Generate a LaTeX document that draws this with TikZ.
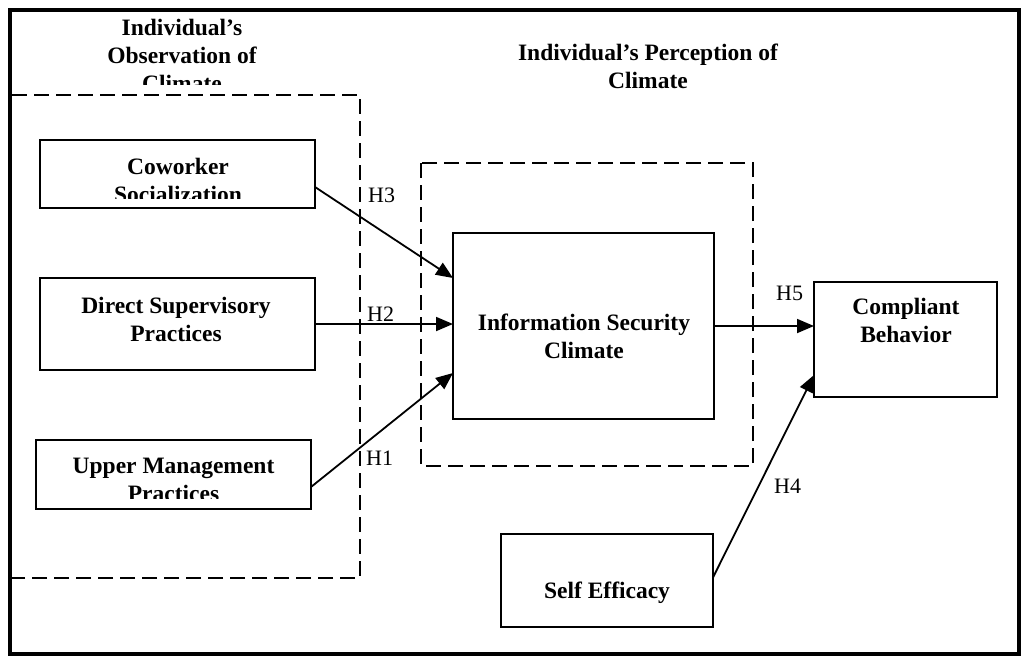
\documentclass[tikz,border=0pt]{standalone}
\usepackage{fontspec}
\setmainfont{Liberation Serif}
\usetikzlibrary{arrows.meta,calc}
\begin{document}
\begin{tikzpicture}[x=1pt,y=-1pt,
  box/.style={draw, line width=2pt, inner sep=0pt, outer sep=0pt},
  lbl/.style={font=\fontsize{23.5}{28}\selectfont\bfseries, anchor=base, inner sep=0pt},
  hyp/.style={font=\fontsize{22}{26}\selectfont, anchor=west, inner sep=0pt},
  link/.style={line width=1.8pt, -{Triangle[length=17pt,width=14pt]}},
  grp/.style={line width=2pt, dash pattern=on 15pt off 7pt},
  frame/.style={line width=4.5pt}]
\useasboundingbox (0,0) rectangle (1026,659);
\draw[frame] (10,10) rectangle (1019,654);

% group outlines
\draw[grp] (12,95) -- (360,95) -- (360,578) -- (12,578);
\draw[grp] (421,163) rectangle (753,466);

% boxes
\node[box, minimum width=275pt, minimum height=68pt] (cw) at (177.5,174) {};
\node[box, minimum width=275pt, minimum height=92pt] (dsp) at (177.5,324) {};
\node[box, minimum width=275pt, minimum height=69pt] (um) at (173.5,474.5) {};
\node[box, minimum width=261pt, minimum height=186pt] (isc) at (583.5,326) {};
\node[box, minimum width=183pt, minimum height=115pt] (cb) at (905.5,339.5) {};
\node[box, minimum width=212pt, minimum height=93pt] (se) at (607,580.5) {};

% titles
\begin{scope}
  \clip (12,12) rectangle (360,84);
  \node[lbl] (t1) at (182,35) {\begin{tabular}[t]{@{}c@{}}Individual’s\\Observation of\\Climate\end{tabular}};
\end{scope}
\node[lbl] (t2) at (648,60) {\begin{tabular}[t]{@{}c@{}}Individual’s Perception of\\Climate\end{tabular}};

% box texts
\begin{scope}
  \clip (cw.north west) rectangle ($(cw.south east)+(0,-10)$);
  \node[lbl] (cwt) at (178,174) {\begin{tabular}[t]{@{}c@{}}Coworker\\Socialization\end{tabular}};
\end{scope}
\node[lbl] (dspt) at (176,313) {\begin{tabular}[t]{@{}c@{}}Direct Supervisory\\Practices\end{tabular}};
\begin{scope}
  \clip (um.north west) rectangle ($(um.south east)+(0,-11)$);
  \node[lbl] (umt) at (173.5,473) {\begin{tabular}[t]{@{}c@{}}Upper Management\\Practices\end{tabular}};
\end{scope}
\node[lbl] (isct) at (584,330) {\begin{tabular}[t]{@{}c@{}}Information Security\\Climate\end{tabular}};
\node[lbl] (cbt) at (906,314) {\begin{tabular}[t]{@{}c@{}}Compliant\\Behavior\end{tabular}};
\node[lbl] (set) at (607,598) {Self Efficacy};

% connectors
\draw[link] ($(cw.east)+(0,13)$) -- ($(isc.west)+(0,-48)$);
\draw[link] (dsp.east) -- (dsp.east -| isc.west);
\draw[link] ($(um.east)+(0,12.5)$) -- ($(isc.west)+(0,47)$);
\draw[link] (isc.east) -- (isc.east -| cb.west);
\draw[link] ($(se.east)+(0,-3)$) -- ($(cb.west)+(0,35.5)$);

% hypothesis labels
\node[hyp] (h3) at (368,195) {H3};
\node[hyp] (h2) at (367,314) {H2};
\node[hyp] (h1) at (366,458) {H1};
\node[hyp] (h5) at (776,293) {H5};
\node[hyp] (h4) at (774,486) {H4};
\end{tikzpicture}
\end{document}
